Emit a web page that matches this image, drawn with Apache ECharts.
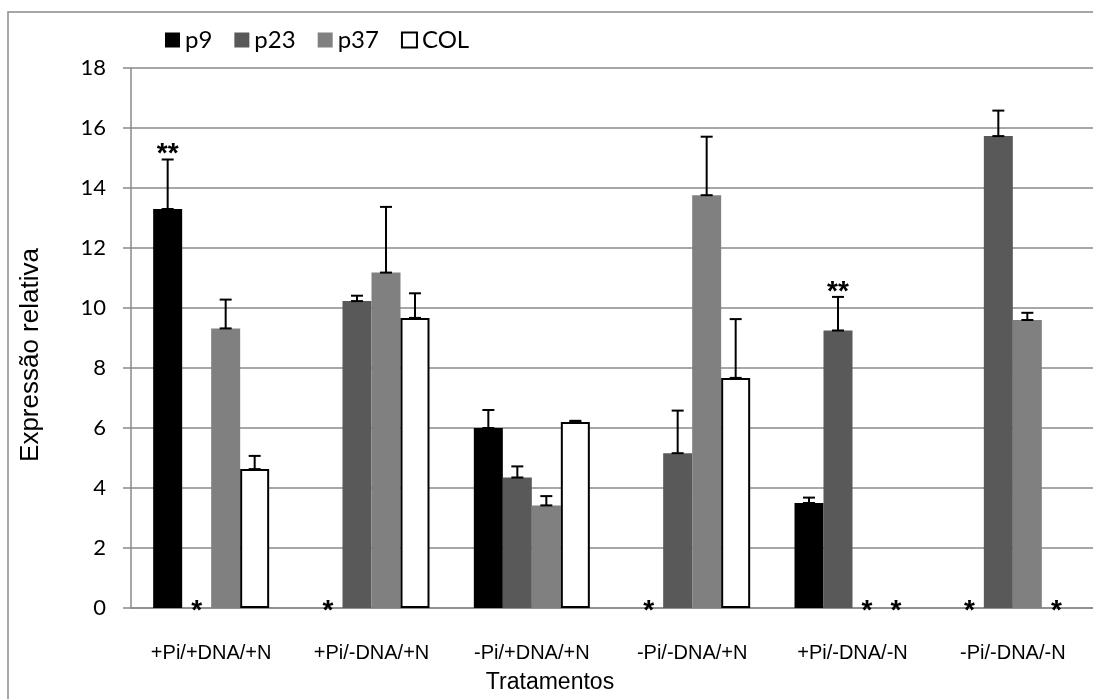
<!DOCTYPE html>
<html>
<head>
<meta charset="utf-8">
<script src="https://cdn.jsdelivr.net/npm/echarts@6/dist/echarts.min.js"></script>
<style>
html,body{margin:0;padding:0;background:#fff;}
#chart{width:1093px;height:699px;}
</style>
</head>
<body>
<div id="chart"></div>
<script>
const categories = ['+Pi/+DNA/+N', '+Pi/-DNA/+N', '-Pi/+DNA/+N', '-Pi/-DNA/+N', '+Pi/-DNA/-N', '-Pi/-DNA/-N'];
const yTicks = [0, 2, 4, 6, 8, 10, 12, 14, 16, 18];

const p9     = [13.3, 0, 6.0, 0, 3.5, 0];
const p23    = [0, 10.23, 4.35, 5.16, 9.25, 15.73];
const p37    = [9.32, 11.18, 3.42, 13.76, 0, 9.6];
const col    = [4.63, 9.67, 6.2, 7.67, 0, 0];

const p9Err  = [1.65, 0, 0.6, 0, 0.18, 0];
const p23Err = [0, 0.18, 0.37, 1.42, 1.12, 0.85];
const p37Err = [0.96, 2.19, 0.31, 1.95, 0, 0.24];
const colErr = [0.44, 0.82, 0.04, 1.96, 0, 0];

const p9Marks  = ['**', '*', '', '*', '', '*'];
const p23Marks = ['*', '', '', '', '**', ''];
const p37Marks = ['', '', '', '', '*', ''];
const colMarks = ['', '', '', '', '*', '*'];

const BAR_W = 29;
const names = ['p9', 'p23', 'p37', 'COL'];
const values = [p9, p23, p37, col];
const errs = [p9Err, p23Err, p37Err, colErr];
const marks = [p9Marks, p23Marks, p37Marks, colMarks];
const fills = ['#000000', '#595959', '#808080', '#ffffff'];

const chart = echarts.init(document.getElementById('chart'), null, {renderer: 'canvas'});

const series = [];
names.forEach((n, k) => {
  series.push({
    name: n,
    type: 'bar',
    barWidth: BAR_W,
    barGap: '0%',
    data: values[k].map(v => ({
      value: v,
      itemStyle: (k === 3 && v === 0) ? {borderWidth: 0} : undefined
    })),
    itemStyle: k === 3 ? {color: '#ffffff', borderColor: '#000000', borderWidth: 2}
                       : {color: fills[k]},
    emphasis: {disabled: true},
    z: 2
  });
});
names.forEach((n, k) => {
  series.push({
    type: 'custom',
    silent: true,
    z: 5,
    data: categories.map((c, i) => [i, values[k][i], errs[k][i]]),
    renderItem: function (params, api) {
      const x = api.value(0), v = api.value(1), e = api.value(2);
      if (!e) return null;
      const off = (k - 1.5) * BAR_W;
      const p0 = api.coord([x, v]);
      const p1 = api.coord([x, v + e]);
      const cx = p0[0] + off;
      const st = {stroke: '#000', lineWidth: 2};
      return {
        type: 'group',
        children: [
          {type: 'line', shape: {x1: cx, y1: p0[1], x2: cx, y2: p1[1]}, style: st},
          {type: 'line', shape: {x1: cx - 6, y1: p1[1], x2: cx + 6, y2: p1[1]}, style: st},
          {type: 'line', shape: {x1: cx - 6, y1: p0[1], x2: cx + 6, y2: p0[1]}, style: st}
        ]
      };
    }
  });
  series.push({
    type: 'custom',
    silent: true,
    z: 6,
    data: categories.map((c, i) => [i, values[k][i] + errs[k][i]]),
    renderItem: function (params, api) {
      const m = marks[k][params.dataIndex];
      if (!m) return null;
      const x = api.value(0), t = api.value(1);
      const p = api.coord([x, t]);
      const cx = p[0] + (k - 1.5) * BAR_W;
      const y = t === 0 ? p[1] + 3 : p[1] - 5;
      return {
        type: 'text',
        style: {
          text: m, x: cx, y: y,
          align: 'center', verticalAlign: 'middle',
          fontSize: 28,
          fontWeight: 'bold',
          fontFamily: '"Liberation Sans", Arial, sans-serif',
          fill: '#000'
        }
      };
    }
  });
});

chart.setOption({
  animation: false,
  backgroundColor: '#ffffff',
  legend: {
    data: names,
    left: 160,
    top: 23,
    icon: 'rect',
    itemWidth: 15,
    itemHeight: 15,
    itemGap: 22,
    textStyle: {fontFamily: 'Lato', fontSize: 24, color: '#000'}
  },
  grid: {left: 131, right: -1, top: 68, bottom: 91},
  xAxis: {
    type: 'category',
    data: categories,
    axisLine: {lineStyle: {color: '#8a8a8a', width: 1.5}},
    axisTick: {show: false},
    axisLabel: {
      margin: 35,
      fontFamily: '"Liberation Sans", Arial, sans-serif',
      fontSize: 20,
      color: '#000'
    },
    splitLine: {show: false}
  },
  yAxis: {
    type: 'value',
    min: 0,
    max: 18,
    interval: 2,
    axisLine: {show: true, lineStyle: {color: '#8a8a8a', width: 1.5}},
    axisTick: {show: true, length: 8, lineStyle: {color: '#8a8a8a', width: 1.5}},
    axisLabel: {
      margin: 25,
      fontFamily: 'Lato',
      fontSize: 22,
      color: '#000',
      formatter: v => String(yTicks[yTicks.indexOf(v)])
    },
    splitLine: {lineStyle: {color: '#8a8a8a', width: 1.5}}
  },
  graphic: [
    {
      type: 'rect', silent: true, z: -1,
      shape: {x: 8, y: 12, width: 1100, height: 700},
      style: {fill: 'none', stroke: '#8a8a8a', lineWidth: 1.5}
    },
    {
      type: 'text', silent: true,
      x: 31, y: 355, rotation: Math.PI / 2,
      style: {
        text: 'Expressão relativa',
        align: 'center', verticalAlign: 'middle',
        fontSize: 26, fontFamily: '"Liberation Sans", Arial, sans-serif', fill: '#000'
      }
    },
    {
      type: 'text', silent: true,
      x: 550, y: 683,
      style: {
        text: 'Tratamentos',
        align: 'center', verticalAlign: 'middle',
        fontSize: 23, fontFamily: '"Liberation Sans", Arial, sans-serif', fill: '#000'
      }
    }
  ],
  series: series
});
</script>
</body>
</html>
